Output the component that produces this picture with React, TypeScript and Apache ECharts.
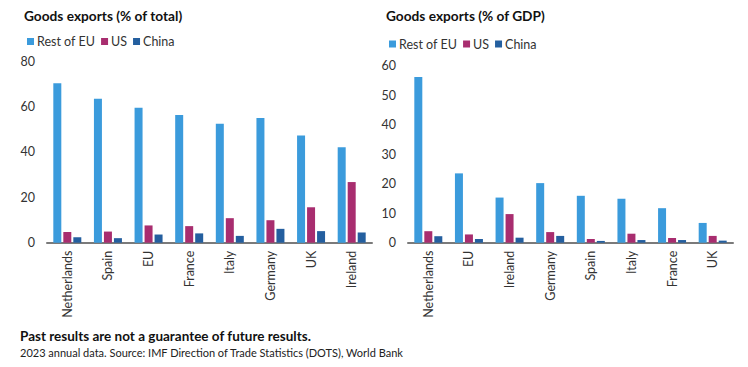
import React, { useEffect, useRef } from "react";
import * as echarts from "echarts";

const seriesNames = ["Rest of EU", "US", "China"];
const colors = ["#3b9bdc", "#a82d6f", "#245f9f"];

const leftCategories = ["Netherlands", "Spain", "EU", "France", "Italy", "Germany", "UK", "Ireland"];
const leftRestEU = [70.2, 63.4, 59.4, 56.2, 52.4, 54.9, 47.2, 42.0];
const leftUS = [4.7, 4.9, 7.6, 7.3, 10.8, 9.9, 15.6, 26.7];
const leftChina = [2.4, 2.0, 3.6, 4.1, 3.0, 6.1, 5.1, 4.5];

const rightCategories = ["Netherlands", "EU", "Ireland", "Germany", "Spain", "Italy", "France", "UK"];
const rightRestEU = [56.2, 23.5, 15.3, 20.2, 15.9, 14.9, 11.7, 6.7];
const rightUS = [3.9, 2.8, 9.7, 3.6, 1.25, 3.05, 1.6, 2.3];
const rightChina = [2.2, 1.25, 1.7, 2.3, 0.6, 0.9, 0.9, 0.7];

const leftTitle = "Goods exports (% of total)";
const rightTitle = "Goods exports (% of GDP)";
const footerBold = "Past results are not a guarantee of future results.";
const footerNote = "2023 annual data. Source: IMF Direction of Trade Statistics (DOTS), World Bank";

const FONT = "Lato";

export default function App() {
  const ref = useRef<HTMLDivElement>(null);
  useEffect(() => {
    if (!ref.current) return;
    const chart = echarts.init(ref.current, undefined, { renderer: "svg" });
    const xAxisCommon = {
      type: "category" as const,
      axisLine: { lineStyle: { color: "#7a7a7a", width: 2 } },
      axisTick: { show: false },
      axisLabel: { rotate: 90, fontSize: 12.5, color: "#333", fontFamily: FONT, margin: 8, interval: 0 },
    };
    const yAxisCommon = {
      type: "value" as const,
      min: 0,
      axisLine: { show: false },
      axisTick: { show: false },
      splitLine: { show: false },
      axisLabel: { fontSize: 12.5, color: "#333", fontFamily: FONT, margin: 12 },
    };
    const legendCommon = {
      data: seriesNames,
      icon: "rect",
      itemWidth: 7,
      itemHeight: 7,
      itemGap: 6,
      padding: 0,
      textStyle: { fontSize: 12.5, color: "#333", fontFamily: FONT, padding: [0, 0, 0, -2] },
    };
    const mk = (name: string, data: number[], i: number, axisIndex: number) => ({
      name,
      type: "bar" as const,
      xAxisIndex: axisIndex,
      yAxisIndex: axisIndex,
      data,
      barWidth: 8,
      barGap: "25%",
      itemStyle: { color: colors[i] },
    });
    chart.setOption({
      animation: false,
      color: colors,
      textStyle: { fontFamily: FONT },
      title: [
        { text: leftTitle, left: 19, top: 3, textStyle: { fontSize: 13.7, fontWeight: "bold", color: "#111", fontFamily: FONT } },
        { text: rightTitle, left: 381, top: 3, textStyle: { fontSize: 13.7, fontWeight: "bold", color: "#111", fontFamily: FONT } },
      ],
      legend: [
        { ...legendCommon, left: 27, top: 35 },
        { ...legendCommon, left: 389, top: 37.5 },
      ],
      grid: [
        { left: 47, top: 61, width: 325, height: 181.7 },
        { left: 408, top: 65.7, width: 325, height: 177 },
      ],
      xAxis: [
        { ...xAxisCommon, gridIndex: 0, data: leftCategories },
        { ...xAxisCommon, gridIndex: 1, data: rightCategories },
      ],
      yAxis: [
        { ...yAxisCommon, gridIndex: 0, max: 80, interval: 20 },
        { ...yAxisCommon, gridIndex: 1, max: 60, interval: 10 },
      ],
      series: [
        mk("Rest of EU", leftRestEU, 0, 0),
        mk("US", leftUS, 1, 0),
        mk("China", leftChina, 2, 0),
        mk("Rest of EU", rightRestEU, 0, 1),
        mk("US", rightUS, 1, 1),
        mk("China", rightChina, 2, 1),
      ],
      graphic: [
        {
          type: "text",
          left: 20,
          top: 329,
          style: { text: footerBold, fontSize: 13.5, fontWeight: "bold", fill: "#111", fontFamily: FONT },
        },
        {
          type: "text",
          left: 20,
          top: 347,
          style: { text: footerNote, fontSize: 11, fill: "#222", fontFamily: FONT },
        },
      ],
    });
    return () => chart.dispose();
  }, []);
  return (
    <div
      ref={ref}
      style={{ position: "absolute", left: 0, top: 0, width: 748, height: 367, background: "#fff" }}
    />
  );
}
